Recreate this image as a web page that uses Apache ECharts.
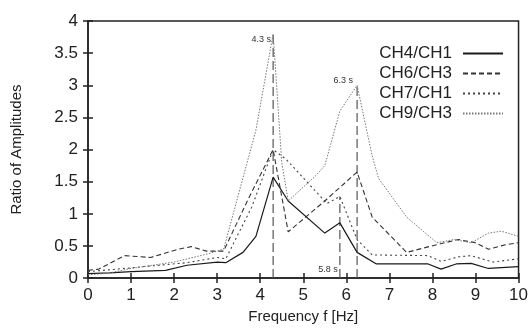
<!DOCTYPE html>
<html>
<head>
<meta charset="utf-8">
<script src="https://cdn.jsdelivr.net/npm/echarts@6/dist/echarts.min.js"></script>
<style>
  html, body { margin: 0; padding: 0; background: #fff; }
  #chart { width: 531px; height: 329px; }
</style>
</head>
<body>
<div id="chart"></div>
<script>
// series names
var seriesNames = ['CH4/CH1', 'CH6/CH3', 'CH7/CH1', 'CH9/CH3'];

// CH4/CH1 (solid)
var ch4Freq  = [0, 0.5, 1, 1.8, 2.3, 3.0, 3.2, 3.6, 3.9, 4.3, 4.65, 5.5, 5.85, 6.25, 6.7, 7.9, 8.2, 8.55, 8.9, 9.3, 10];
var ch4Ratio = [0.07, 0.08, 0.1, 0.12, 0.2, 0.25, 0.24, 0.4, 0.65, 1.57, 1.2, 0.7, 0.86, 0.4, 0.22, 0.22, 0.14, 0.22, 0.23, 0.15, 0.18];

// CH6/CH3 (dashed)
var ch6Freq  = [0, 0.25, 0.85, 1.45, 2.1, 2.4, 2.75, 3.15, 3.7, 4.3, 4.65, 5.5, 6.25, 6.6, 7.4, 8.1, 8.6, 9.0, 9.3, 9.7, 10];
var ch6Ratio = [0.12, 0.14, 0.35, 0.32, 0.45, 0.49, 0.42, 0.42, 1.2, 2.0, 0.72, 1.2, 1.65, 0.95, 0.4, 0.52, 0.6, 0.55, 0.45, 0.52, 0.55];

// CH7/CH1 (dotted)
var ch7Freq  = [0, 1, 2.3, 3.0, 3.2, 3.8, 4.3, 4.6, 5.55, 5.85, 6.25, 6.6, 7.9, 8.2, 8.6, 8.9, 9.4, 10];
var ch7Ratio = [0.1, 0.16, 0.24, 0.32, 0.3, 1.1, 2.0, 1.85, 1.16, 1.27, 0.6, 0.36, 0.35, 0.26, 0.33, 0.35, 0.25, 0.3];

// CH9/CH3 (fine dotted)
var ch9Freq  = [0, 0.5, 1, 2, 2.8, 3.15, 3.9, 4.3, 4.5, 4.65, 5.3, 5.5, 5.85, 6.25, 6.6, 6.75, 7.4, 8.1, 8.5, 8.9, 9.3, 9.6, 10];
var ch9Ratio = [0.05, 0.08, 0.15, 0.25, 0.38, 0.45, 2.3, 3.8, 1.8, 1.2, 1.6, 1.75, 2.6, 3.0, 1.9, 1.55, 0.95, 0.55, 0.6, 0.55, 0.7, 0.73, 0.65];

// peak markers
var peakFreq  = [4.3, 5.85, 6.25];
var peakTop   = [3.82, 1.27, 3.0];
var peakLabel = ['4.3 s', '5.8 s', '6.3 s'];

// axis ticks
var xTicks = { min: 0, max: 10, interval: 1 };
var yTicks = { min: 0, max: 4, interval: 0.5 };

function pairs(xs, ys) {
  var out = [];
  for (var i = 0; i < xs.length; i++) {
    out.push([xs[i], ys[i]]);
  }
  return out;
}

var chart = echarts.init(document.getElementById('chart'));
var fontFamily = '"Liberation Sans", Arial, sans-serif';

var styles = [
  { color: '#1a1a1a', type: 'solid', width: 1.2 },
  { color: '#333', type: [5, 3], width: 1.1 },
  { color: '#444', type: [2, 3], width: 1.1 },
  { color: '#777', type: [1.5, 1.5], width: 1 }
];
var dataSets = [
  pairs(ch4Freq, ch4Ratio),
  pairs(ch6Freq, ch6Ratio),
  pairs(ch7Freq, ch7Ratio),
  pairs(ch9Freq, ch9Ratio)
];

var series = [];
for (var i = 0; i < seriesNames.length; i++) {
  series.push({
    name: seriesNames[i],
    type: 'line',
    data: dataSets[i],
    symbol: 'none',
    silent: true,
    animation: false,
    lineStyle: styles[i],
    itemStyle: { color: styles[i].color }
  });
}

// vertical dashed markers with labels
var labelPos = [
  { offset: [1, 7] },
  { offset: [1, -9] },
  { offset: [-1, -5] }
];
for (var k = 0; k < peakFreq.length; k++) {
  var labelIdx = k === 1 ? 0 : 1; // 5.8 s label sits at bottom
  var pts = [[peakFreq[k], 0], [peakFreq[k], peakTop[k]]];
  series.push({
    type: 'line',
    data: pts.map(function (p, j) {
      return {
        value: p,
        label: {
          show: j === labelIdx,
          formatter: peakLabel[k],
          position: 'left',
          distance: 3,
          offset: labelPos[k].offset,
          fontSize: 9,
          fontFamily: fontFamily,
          color: '#333'
        }
      };
    }),
    symbol: 'circle',
    symbolSize: 0.1,
    showSymbol: true,
    silent: true,
    animation: false,
    z: 1,
    itemStyle: { color: 'transparent' },
    lineStyle: { color: '#555', type: [9, 4], width: 1.2 }
  });
}

chart.setOption({
  backgroundColor: '#fff',
  animation: false,
  grid: {
    left: 88,
    right: 8,
    top: 21,
    bottom: 46,
    show: true,
    borderColor: '#222',
    borderWidth: 1.5,
    backgroundColor: 'transparent'
  },
  legend: {
    data: seriesNames,
    orient: 'vertical',
    align: 'right',
    right: 22,
    top: 40,
    itemWidth: 40,
    itemHeight: 10,
    itemGap: 3,
    itemStyle: { opacity: 0 },
    textStyle: { fontSize: 17, fontFamily: fontFamily, color: '#222', padding: [0, 6, 0, 0] },
    selectedMode: false
  },
  xAxis: [{
    type: 'value',
    min: xTicks.min,
    max: xTicks.max,
    interval: xTicks.interval,
    name: 'Frequency f [Hz]',
    nameLocation: 'middle',
    nameGap: 28,
    nameTextStyle: { fontSize: 15, fontFamily: fontFamily, color: '#222' },
    axisLine: { show: true, lineStyle: { color: '#222', width: 1.5 } },
    axisTick: { inside: true, length: 5, lineStyle: { color: '#222', width: 1.5 } },
    axisLabel: { fontSize: 17, fontFamily: fontFamily, color: '#222', margin: 9 },
    splitLine: { show: false }
  }, {
    type: 'value',
    position: 'top',
    min: xTicks.min,
    max: xTicks.max,
    interval: xTicks.interval,
    axisLine: { show: false },
    axisTick: { inside: true, length: 5, lineStyle: { color: '#222', width: 1.5 } },
    axisLabel: { show: false },
    splitLine: { show: false }
  }],
  yAxis: [{
    type: 'value',
    min: yTicks.min,
    max: yTicks.max,
    interval: yTicks.interval,
    name: 'Ratio of Amplitudes',
    nameLocation: 'middle',
    nameGap: 64,
    nameTextStyle: { fontSize: 15, fontFamily: fontFamily, color: '#222' },
    axisLine: { show: true, lineStyle: { color: '#222', width: 1.5 } },
    axisTick: { inside: true, length: 5, lineStyle: { color: '#222', width: 1.5 } },
    axisLabel: { fontSize: 17, fontFamily: fontFamily, color: '#222', margin: 10 },
    splitLine: { show: false }
  }, {
    type: 'value',
    position: 'right',
    min: yTicks.min,
    max: yTicks.max,
    interval: yTicks.interval,
    axisLine: { show: false },
    axisTick: { inside: true, length: 5, lineStyle: { color: '#222', width: 1.5 } },
    axisLabel: { show: false },
    splitLine: { show: false }
  }],
  series: series
});
</script>
</body>
</html>
